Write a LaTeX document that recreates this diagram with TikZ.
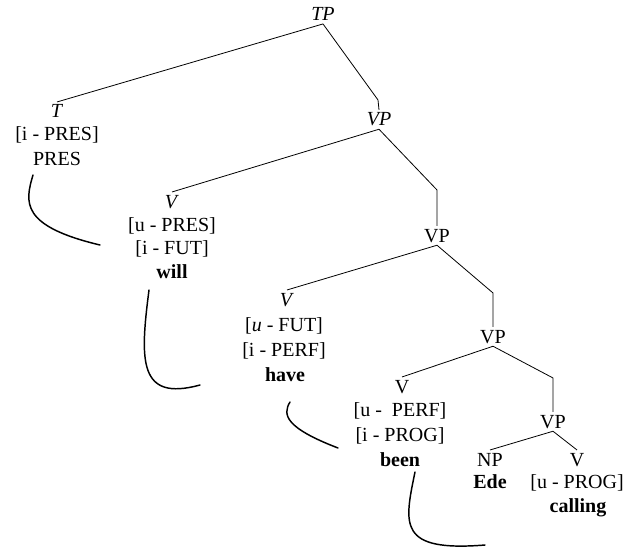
\documentclass[tikz,border=0pt]{standalone}
\usepackage{fontspec}
\setmainfont{Liberation Serif}
\usetikzlibrary{calc}
\begin{document}
\begin{tikzpicture}[x=0.75pt,y=-0.75pt,
  txt/.style={font=\fontsize{15}{18}\selectfont},
  cat/.style={txt, inner sep=2pt, anchor=base},
  feat/.style={txt, inner sep=0pt, anchor=base},
  word/.style={feat, font=\fontsize{15}{18}\selectfont\bfseries},
  branch/.style={line width=0.6pt},
  move/.style={line width=1.1pt, line cap=round}]
\useasboundingbox (0,0) rectangle (630,552);

% category labels
\node[cat] (TP)  at (323,21)  {\textit{TP}};
\node[cat] (T)   at (57,118)  {\textit{T}};
\node[cat] (VP1) at (379,126) {\textit{VP}};
\node[cat] (V1)  at (172,208) {\textit{V}};
\node[cat] (VP2) at (437,242) {VP};
\node[cat] (V2)  at (287,306) {\textit{V}};
\node[cat] (VP3) at (493,343) {VP};
\node[cat] (V3)  at (402,393) {V};
\node[cat] (VP4) at (553,428) {VP};
\node[cat] (NP)  at (490,466) {NP};
\node[cat] (V4)  at (577,466) {V};

% features and words
\node[feat] (Tf1)  at (57,141)  {[i - PRES]};
\node[feat] (Tf2)  at (57,166)  {PRES};
\node[feat] (V1f1) at (172,231) {[u - PRES]};
\node[feat] (V1f2) at (172,254) {[i - FUT]};
\node[word] (V1w)  at (172,278) {will};
\node[feat] (V2f1) at (284,331) {[\textit{u} - FUT]};
\node[feat] (V2f2) at (284,356) {[i - PERF]};
\node[word] (V2w)  at (285,381) {have};
\node[feat] (V3f1) at (400,416) {[u -~ PERF]};
\node[feat] (V3f2) at (400,441) {[i - PROG]};
\node[word] (V3w)  at (400,466) {been};
\node[word] (NPw)  at (490,488) {Ede};
\node[feat] (V4f1) at (577,488) {[u - PROG]};
\node[word] (V4w)  at (578,512) {calling};

% tree branches
\draw[branch] (TP.south) -- (T.north);
\draw[branch] (TP.south) -- ($(VP1.north)+(-1,-10)$) -- (VP1.north);
\draw[branch] (VP1.south) -- (V1.north);
\draw[branch] (VP1.south) -- ($(VP2.north)+(0,-36)$) -- (VP2.north);
\draw[branch] (VP2.south) -- (V2.north);
\draw[branch] (VP2.south) -- ($(VP3.north)+(0,-34)$) -- (VP3.north);
\draw[branch] (VP3.south) -- (V3.north);
\draw[branch] (VP3.south) -- ($(VP4.north)+(0,-34)$) -- (VP4.north);
\draw[branch] (VP4.south) -- (NP.north);
\draw[branch] (VP4.south) -- (V4.north);

% head movement curves
\coordinate (m1a) at (33,175);  \coordinate (m1b) at (100,245);
\coordinate (m2a) at (149,290); \coordinate (m2b) at (200,385);
\coordinate (m3a) at (290,402); \coordinate (m3b) at (338,448);
\coordinate (m4a) at (415,472); \coordinate (m4b) at (485,545);
\draw[move] (m1a) .. controls (25,202) and (20,226) .. (m1b);
\draw[move] (m2a) .. controls (140,360) and (138,402) .. (m2b);
\draw[move] (m3a) .. controls (282,415) and (286,428) .. (m3b);
\draw[move] (m4a) .. controls (404,525) and (398,552) .. (m4b);
\end{tikzpicture}
\end{document}
